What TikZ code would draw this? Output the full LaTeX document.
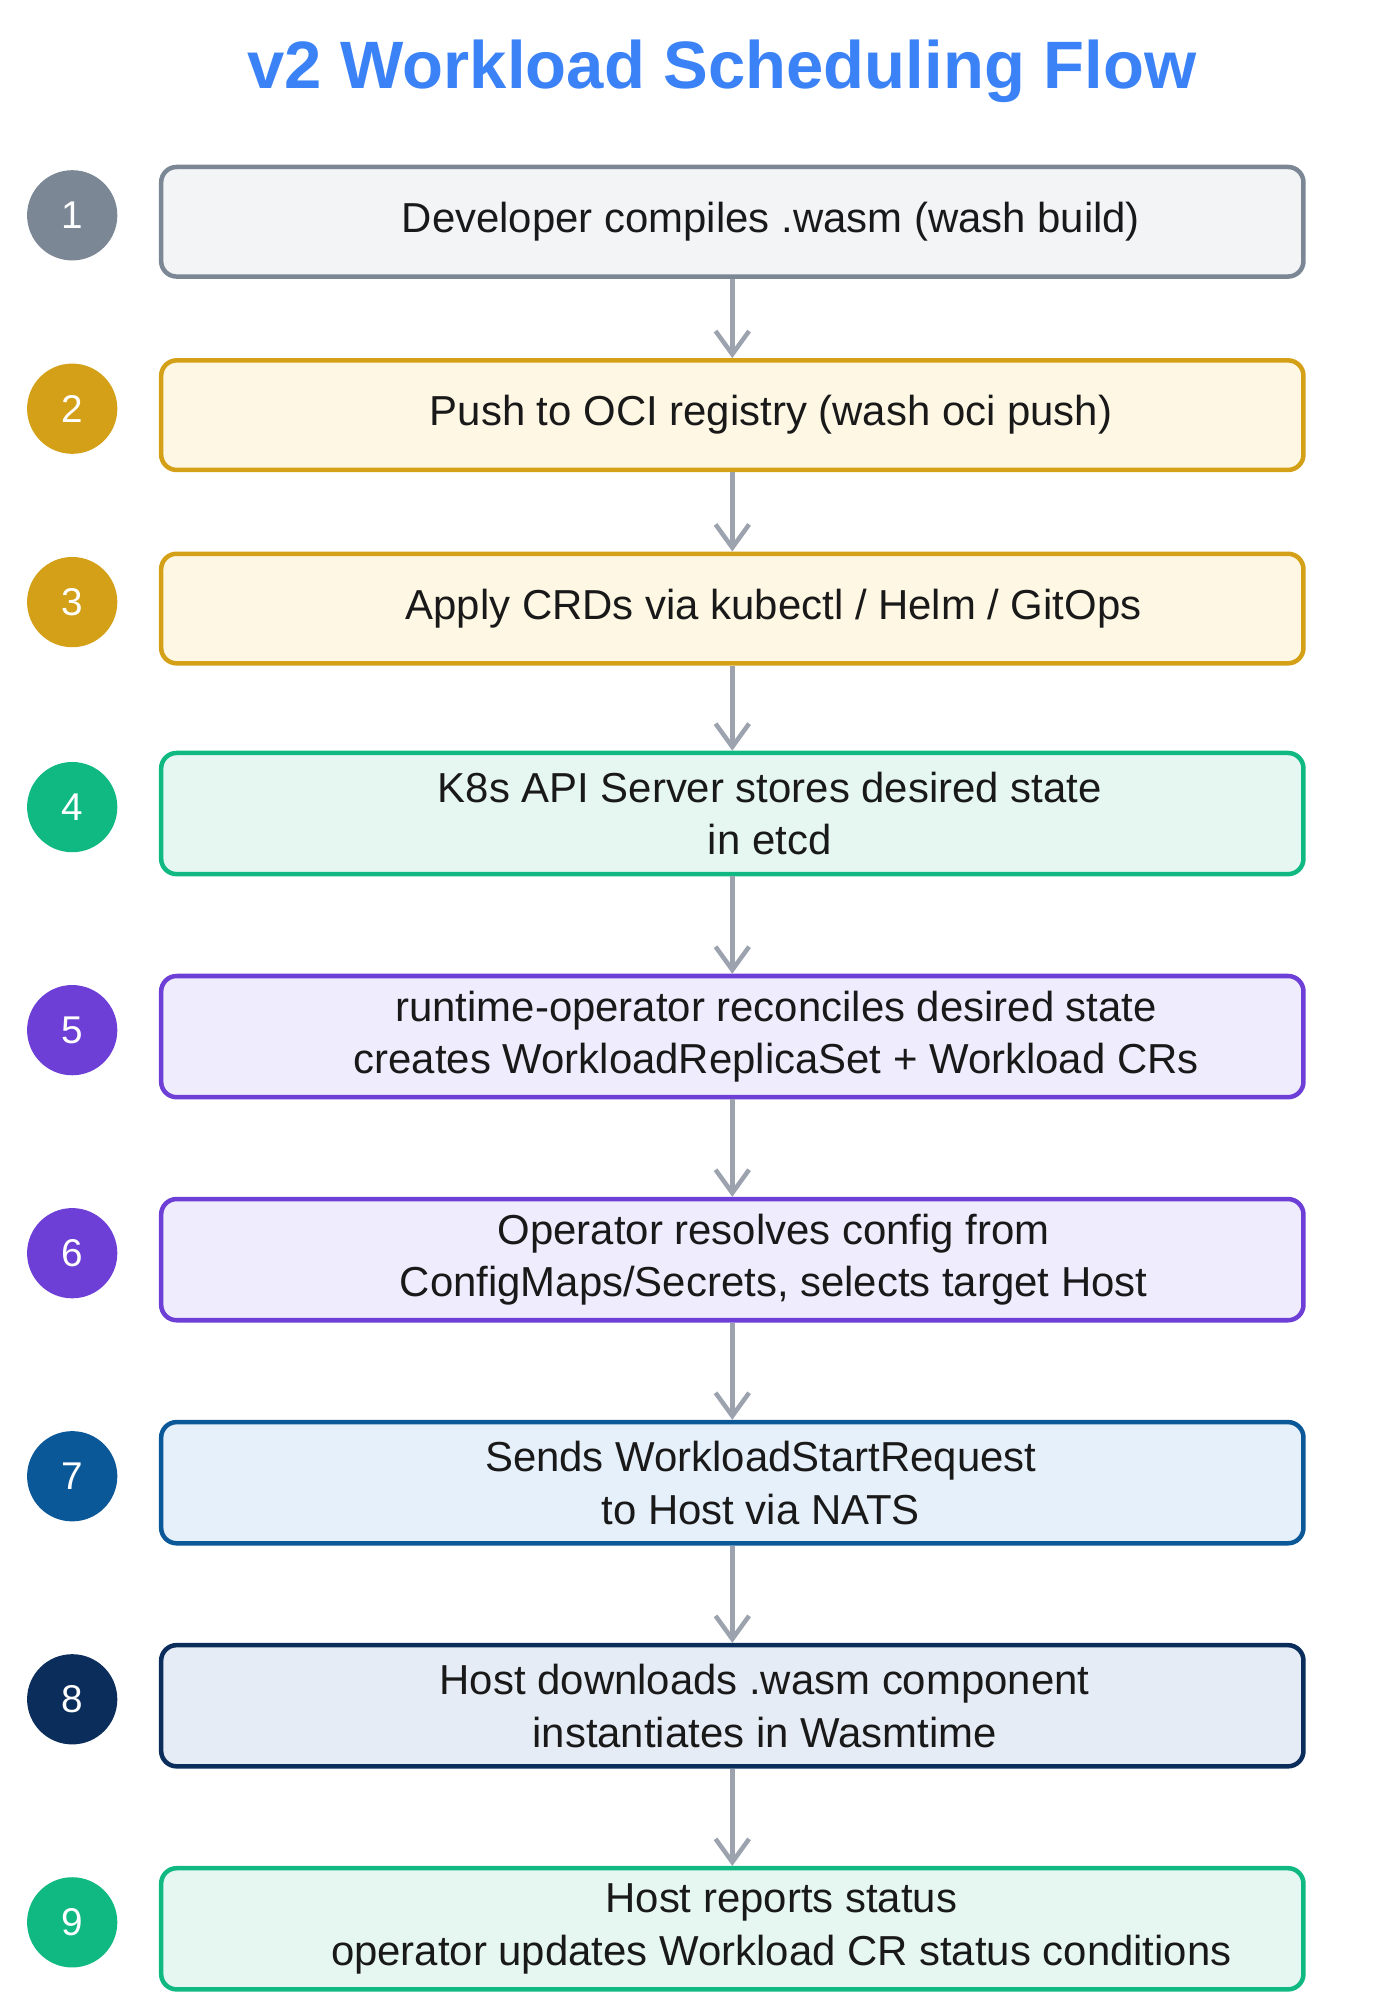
\documentclass[tikz,border=0pt]{standalone}
\usepackage{fontspec}
\setmainfont{Liberation Sans}
\usetikzlibrary{arrows.meta}
\definecolor{gray}{HTML}{7B8794}\definecolor{fgray}{HTML}{F3F4F6}
\definecolor{gold}{HTML}{D4A017}\definecolor{fgold}{HTML}{FEF7E4}
\definecolor{green}{HTML}{10B981}\definecolor{fgreen}{HTML}{E6F7F1}
\definecolor{purp}{HTML}{6D3FD6}\definecolor{fpurp}{HTML}{EFECFD}
\definecolor{blue}{HTML}{0B5899}\definecolor{fblue}{HTML}{E6F0FA}
\definecolor{navy}{HTML}{0B2D5C}\definecolor{fnavy}{HTML}{E6ECF5}
\definecolor{arrowgray}{HTML}{9CA3AF}
\definecolor{titleblue}{HTML}{3B82F6}
\tikzset{
  stepbox/.style={draw=#1, fill=f#1, line width=3.5pt, rounded corners=12pt,
    minimum width=886pt, inner sep=0pt},
  stepnum/.style={circle, fill=#1, minimum size=70pt, inner sep=0pt,
    text=white, font=\fontsize{30}{30}\selectfont},
  steptext/.style={align=center, font=\fontsize{32.5}{41}\selectfont, text=black!90},
  flow/.style={draw=arrowgray, line width=3.5pt, -{Straight Barb[length=18pt,width=26pt]}}
}
\begin{document}
\begin{tikzpicture}[x=1pt,y=-1pt]
\useasboundingbox (0,0) rectangle (1075,1559);
\node[font=\fontsize{52}{52}\selectfont\bfseries, text=titleblue] (title) at (560,55) {v2 Workload Scheduling Flow};
% rows: index/y/height/colour/x of text/text
\foreach \i/\y/\h/\c/\tx/\t in {
  1/172/85/gray/598/{Developer compiles .wasm (wash build)},
  2/322/85/gold/598/{Push to OCI registry (wash oci push)},
  3/472/85/gold/600/{Apply CRDs via kubectl / Helm / GitOps},
  4/631/94/green/597/{K8s API Server stores desired state\\in etcd},
  5/804/94/purp/602/{runtime-operator reconciles desired state\\creates WorkloadReplicaSet + Workload CRs},
  6/977/94/purp/600/{Operator resolves config from\\ConfigMaps/Secrets, selects target Host},
  7/1150/94/blue/590/{Sends WorkloadStartRequest\\to Host via NATS},
  8/1323/94/navy/593/{Host downloads .wasm component\\instantiates in Wasmtime},
  9/1496/94/green/606/{Host reports status\\operator updates Workload CR status conditions}}{
  \node[stepbox=\c, minimum height=\h pt] (box\i) at (568,\y) {};
  \node[steptext] (txt\i) at (\tx,\y) {\t};
  \node[stepnum=\c] (num\i) at (56,\y-5) {\i};
}
\foreach \a/\b in {1/2,2/3,3/4,4/5,5/6,6/7,7/8,8/9}
  \draw[flow] (box\a.south) -- (box\b.north);
\end{tikzpicture}
\end{document}
